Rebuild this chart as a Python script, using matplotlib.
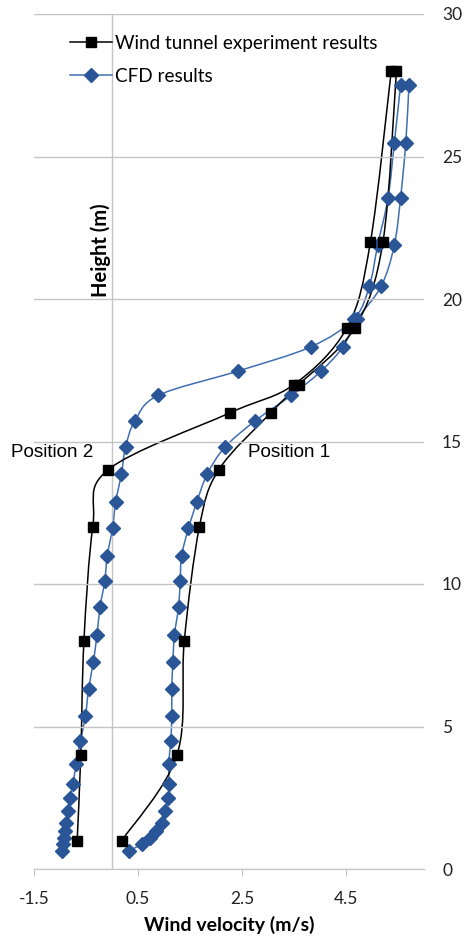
import numpy as np
import matplotlib.pyplot as plt
from matplotlib.path import Path
from matplotlib.patches import PathPatch
from matplotlib.lines import Line2D

plt.rcParams['font.family'] = ['Lato', 'DejaVu Sans']

# wind tunnel measurements (height in m, velocity in m/s)
h_exp = [1, 4, 8, 12, 14, 16, 17, 19, 22, 28]
u_exp_pos1 = [0.19, 1.25, 1.39, 1.68, 2.05, 3.05, 3.60, 4.67, 5.21, 5.47]
u_exp_pos2 = [-0.67, -0.60, -0.54, -0.37, -0.08, 2.26, 3.50, 4.52, 4.97, 5.37]

# CFD profiles at the same two positions
h_cfd = [0.64, 0.87, 1.08, 1.32, 1.63, 2.02, 2.49, 2.99, 3.68, 4.48, 5.38,
         6.32, 7.25, 8.2, 9.19, 10.1, 11.0, 11.95, 12.87, 13.85, 14.8,
         15.72, 16.62, 17.47, 18.32, 19.3, 20.46, 21.9, 23.56, 25.49, 27.51]
u_cfd_pos1 = [0.33, 0.57, 0.73, 0.85, 0.96, 1.01, 1.08, 1.10, 1.09, 1.13, 1.15,
              1.15, 1.17, 1.20, 1.28, 1.31, 1.34, 1.47, 1.63, 1.83, 2.17,
              2.75, 3.45, 4.02, 4.44, 4.72, 5.18, 5.43, 5.55, 5.65, 5.71]
u_cfd_pos2 = [-0.97, -0.95, -0.93, -0.91, -0.88, -0.84, -0.81, -0.75, -0.69, -0.61, -0.51,
              -0.45, -0.36, -0.29, -0.23, -0.14, -0.09, 0.01, 0.07, 0.18, 0.26,
              0.44, 0.89, 2.42, 3.82, 4.65, 4.95, 5.11, 5.31, 5.43, 5.55]

x_ticks = [-1.5, 0.5, 2.5, 4.5]
y_ticks = [0, 5, 10, 15, 20, 25, 30]

exp_color = 'black'
cfd_line = '#3f6fb2'
cfd_marker = '#2a5698'
grid_color = '#c4c4c4'


def smooth_path(x, y):
    # bezier curve through the points, excel-style smoothing
    pts = np.column_stack([x, y]).astype(float)
    n = len(pts)
    verts = [pts[0]]
    codes = [Path.MOVETO]
    for i in range(n - 1):
        p0 = pts[max(i - 1, 0)]
        p1 = pts[i]
        p2 = pts[i + 1]
        p3 = pts[min(i + 2, n - 1)]
        verts += [p1 + (p2 - p0) / 6, p2 - (p3 - p1) / 6, p2]
        codes += [Path.CURVE4] * 3
    return Path(verts, codes)


fig = plt.figure(figsize=(4.7, 9.41), dpi=100)
ax = fig.add_axes([34 / 470, 1 - 869 / 941, 390 / 470, 855 / 941])
ax.set_xlim(-1.5, 6)
ax.set_ylim(0, 30)

ax.set_yticks(y_ticks)
ax.set_xticks(x_ticks)
ax.set_xticklabels(['%g' % t for t in x_ticks])
ax.grid(axis='y', color=grid_color, lw=1)
ax.axvline(0, color=grid_color, lw=1)
for s in ['top', 'left', 'right']:
    ax.spines[s].set_visible(False)
ax.spines['bottom'].set_color(grid_color)
ax.yaxis.tick_right()
ax.tick_params(axis='y', length=0, pad=13, labelsize=12.5, labelcolor='#222222')
ax.tick_params(axis='x', length=5, color=grid_color, pad=11, labelsize=12.5, labelcolor='#222222')

# CFD curves
for u in [u_cfd_pos1, u_cfd_pos2]:
    ax.add_patch(PathPatch(smooth_path(u, h_cfd), fill=False, edgecolor=cfd_line, lw=1.1))
    ax.plot(u, h_cfd, ls='none', marker='D', ms=7, color=cfd_marker)

# wind tunnel curves
for u in [u_exp_pos1, u_exp_pos2]:
    ax.add_patch(PathPatch(smooth_path(u, h_exp), fill=False, edgecolor=exp_color, lw=1.1))
    ax.plot(u, h_exp, ls='none', marker='s', ms=7.5, color=exp_color)

handles = [Line2D([], [], color=exp_color, lw=1.1, marker='s', ms=7.5),
           Line2D([], [], color=cfd_line, lw=1.1, marker='D', ms=7, mfc=cfd_marker, mec=cfd_marker)]
ax.legend(handles, ['Wind tunnel experiment results', 'CFD results'],
          loc='upper left', bbox_to_anchor=(0.069, 0.987), frameon=False, borderpad=0,
          fontsize=13.6, handlelength=2.2, handletextpad=0.15, labelspacing=0.85)

ax.text(-1.15, 14.6, 'Position 2', ha='center', va='center', fontsize=13.6,
        family='Liberation Sans', clip_on=False)
ax.text(3.40, 14.6, 'Position 1', ha='center', va='center', fontsize=13.6,
        family='Liberation Sans')

ax.text(0.171, 0.724, 'Height (m)', transform=ax.transAxes, rotation=90,
        ha='center', va='center', fontsize=14.5, fontweight='bold')
ax.set_xlabel('Wind velocity (m/s)', fontsize=14, fontweight='bold', labelpad=6)

fig.savefig('out.png', dpi=100)
